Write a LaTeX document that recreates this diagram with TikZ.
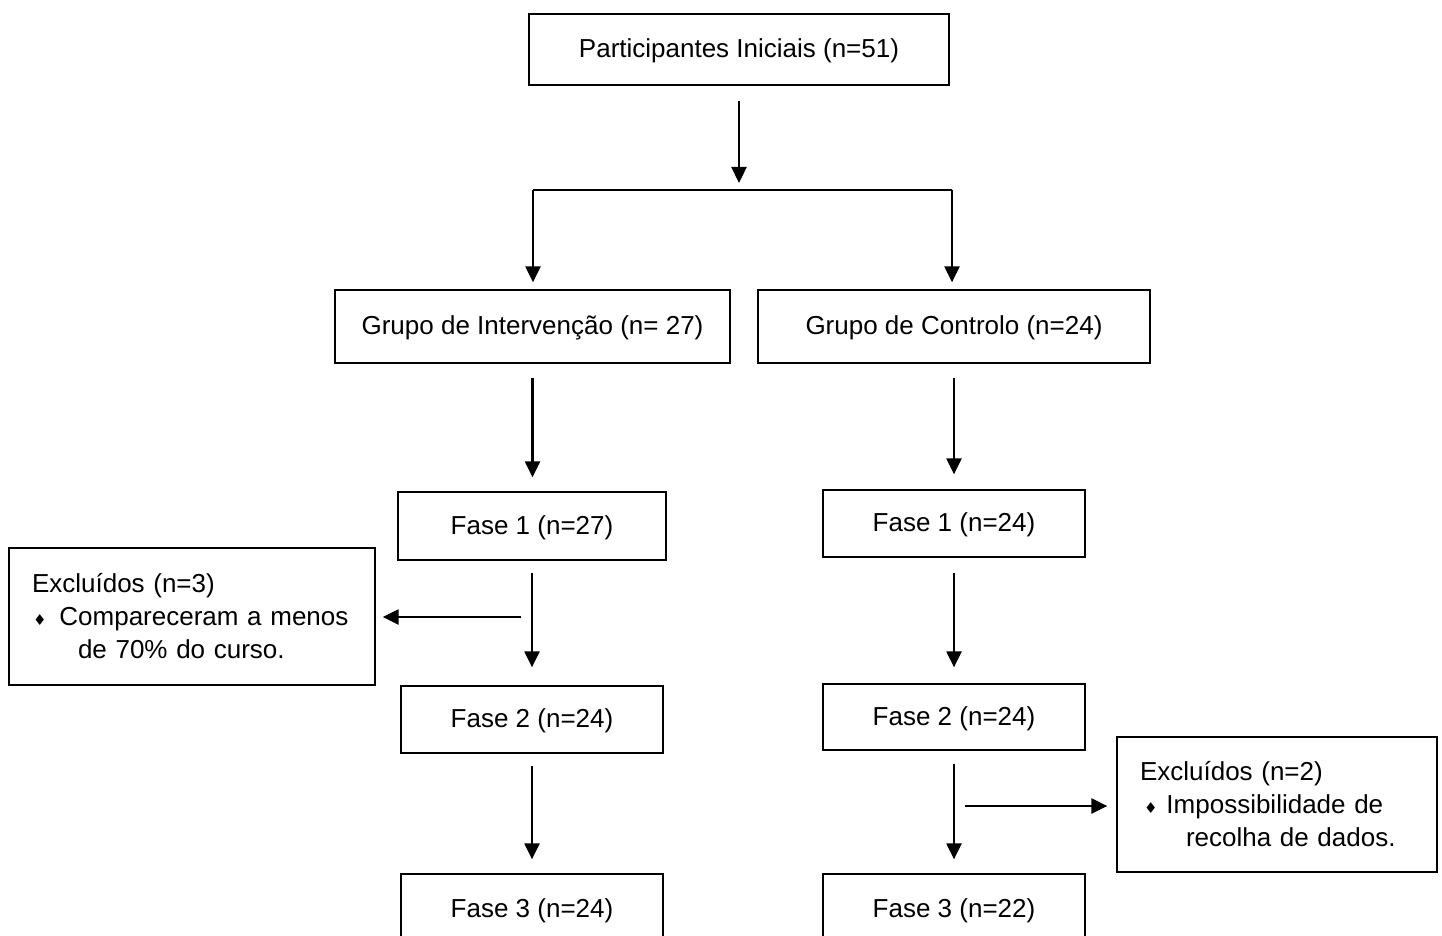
\documentclass[tikz,border=0pt]{standalone}
\usepackage{fontspec}
\setmainfont{Liberation Sans}
\newfontfamily\dejavu{DejaVu Sans}
\usetikzlibrary{arrows.meta}
\newcommand{\dbul}{{\dejavu\fontsize{15}{15}\selectfont ♦}}
\begin{document}
\begin{tikzpicture}[x=1pt,y=-1pt,
  box/.style={draw, line width=1.3pt, rectangle, inner sep=0pt, align=center,
    text height=19pt, text depth=3pt, font=\fontsize{26}{33}\selectfont},
  exbox/.style={draw, line width=1.3pt, rectangle, inner xsep=23pt, inner ysep=0pt, align=left,
    font=\fontsize{26}{33}\selectfont},
  arr/.style={line width=2.3pt, -{Triangle[length=16pt,width=15pt]}},
  ln/.style={line width=2.3pt}]
\useasboundingbox (0,0) rectangle (1442,936);
\clip (0,0) rectangle (1442,936);
\node[box, minimum width=420pt, minimum height=71pt] (top) at (739,49.5) {Participantes Iniciais (n=51)};
\node[box, minimum width=395pt, minimum height=73pt] (GI) at (532.5,326.5) {Grupo de Intervenção (n= 27)};
\node[box, minimum width=392pt, minimum height=73pt] (GC) at (954,326.5) {Grupo de Controlo (n=24)};
\node[box, minimum width=268pt, minimum height=68pt] (F1L) at (532,526) {Fase 1 (n=27)};
\node[box, minimum width=262pt, minimum height=67pt] (F1R) at (954,523.5) {Fase 1 (n=24)};
\node[box, minimum width=262pt, minimum height=67pt] (F2L) at (532,719.5) {Fase 2 (n=24)};
\node[box, minimum width=262pt, minimum height=66pt] (F2R) at (954,717) {Fase 2 (n=24)};
\node[box, minimum width=262pt, minimum height=70pt] (F3L) at (532,909) {Fase 3 (n=24)};
\node[box, minimum width=262pt, minimum height=70pt] (F3R) at (954,909) {Fase 3 (n=22)};
\node[exbox, minimum width=366pt, minimum height=137pt, text width=320pt] (ExL) at (192,616.5)
  {Excluídos (n=3)\\\hspace*{1pt}\dbul\hspace*{13pt}Compareceram a menos\\\hspace*{46pt}de 70\% do curso.};
\node[exbox, minimum width=320pt, minimum height=135pt, text width=274pt] (ExR) at (1277,804.5)
  {Excluídos (n=2)\\\hspace*{4pt}\dbul\hspace*{9pt}Impossibilidade de\\\hspace*{46pt}recolha de dados.};
\coordinate (sl) at (533,190);
\coordinate (sr) at (952,190);
\coordinate (bl) at (521,617);
\coordinate (br) at (965,806);
\draw[arr, shorten <=15pt, shorten >=7pt] (top.south) -- (top.south |- sl);
\draw[ln] (sl) -- (sr);
\draw[arr, shorten >=7pt] (sl) -- (sl |- GI.north);
\draw[arr, shorten >=7pt] (sr) -- (sr |- GC.north);
\draw[arr, shorten <=14pt, shorten >=14pt] (GI.south) -- (GI.south |- F1L.north);
\draw[arr, shorten <=14pt, shorten >=15pt] (GC.south) -- (F1R.north);
\draw[arr, shorten <=12pt, shorten >=18pt] (F1L.south) -- (F2L.north);
\draw[arr, shorten <=15pt, shorten >=16pt] (F1R.south) -- (F2R.north);
\draw[arr, shorten <=12pt, shorten >=14pt] (F2L.south) -- (F3L.north);
\draw[arr, shorten <=13pt, shorten >=14pt] (F2R.south) -- (F3R.north);
\draw[arr, shorten >=7pt] (bl) -- (bl -| ExL.east);
\draw[arr, shorten >=9pt] (br) -- (br -| ExR.west);
\end{tikzpicture}
\end{document}
